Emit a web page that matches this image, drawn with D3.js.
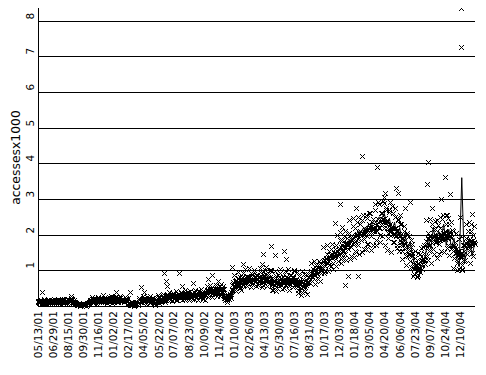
<!DOCTYPE html>
<html>
<head>
<meta charset="utf-8">
<script src="https://cdn.jsdelivr.net/npm/d3@7"></script>
<style>
  html, body { margin: 0; padding: 0; background: #fff; }
  svg { display: block; }
  text { font-family: "DejaVu Sans", sans-serif; fill: #000; }
</style>
</head>
<body>
<svg id="chart" width="486" height="375"></svg>
<script>
// ---------------- data ----------------
const startDate = "05/13/01";
const endDate = "01/25/05";

const tickLabels = ["05/13/01","06/29/01","08/15/01","09/30/01","11/16/01","01/02/02","02/17/02",
  "04/05/02","05/22/02","07/07/02","08/23/02","10/09/02","11/24/02","01/10/03","02/26/03",
  "04/13/03","05/30/03","07/16/03","08/31/03","10/17/03","12/03/03","01/18/04","03/05/04",
  "04/20/04","06/06/04","07/23/04","09/07/04","10/24/04","12/10/04"];

const yTicks = [1, 2, 3, 4, 5, 6, 7, 8];
const yMax = 8.36;

// daily accesses (x1000). Four interleaved sets, each one reading every 4 days,
// starting 0, 1, 2 and 3 days after the start date.
const accessStepDays = 4;

const accessesA = [ // day offset 0
  0.12,0.08,0.15,0.10,0.14,0.07,0.12,0.16,0.09,0.13,
  0.11,0.15,0.08,0.13,0.17,0.10,0.14,0.09,0.16,0.12,
  0.10,0.15,0.12,0.18,0.09,0.14,0.20,0.11,0.16,0.10,
  0.06,0.04,0.08,0.03,0.05,0.07,0.04,0.06,0.03,0.08,
  0.12,0.18,0.10,0.16,0.21,0.13,0.19,0.11,0.17,0.22,
  0.14,0.20,0.12,0.18,0.23,0.15,0.11,0.19,0.24,0.13,
  0.17,0.22,0.12,0.19,0.25,0.14,0.20,0.16,0.23,0.13,
  0.08,0.05,0.10,0.06,0.04,0.09,0.07,0.12,0.16,0.20,
  0.14,0.21,0.11,0.18,0.24,0.13,0.20,0.09,0.17,0.23,
  0.06,0.15,0.22,0.10,0.26,0.14,0.20,0.28,0.17,0.24,
  0.19,0.30,0.16,0.26,0.34,0.21,0.29,0.18,0.33,0.25,
  0.22,0.36,0.27,0.19,0.32,0.40,0.24,0.30,0.21,0.35,
  0.28,0.38,0.23,0.33,0.42,0.26,0.31,0.37,0.22,0.34,
  0.30,0.45,0.27,0.40,0.50,0.33,0.43,0.36,0.52,0.38,
  0.44,0.55,0.35,0.48,0.30,0.22,0.18,0.26,0.20,0.34,
  0.45,0.62,0.52,0.70,0.58,0.78,0.50,0.66,0.82,0.60,
  0.72,0.58,0.85,0.66,0.76,0.92,0.62,0.80,0.70,0.88,
  0.65,0.82,0.95,0.72,0.60,0.88,1.00,0.75,0.68,0.90,
  0.55,0.78,0.45,0.70,0.85,0.50,0.62,0.92,0.58,0.74,
  0.82,0.60,0.95,0.70,0.55,0.86,0.66,0.78,0.98,0.62,
  0.72,0.45,0.85,0.58,0.40,0.76,0.90,0.52,0.68,0.82,
  0.80,0.98,0.70,1.05,0.88,1.15,0.78,1.02,1.20,0.92,
  1.10,1.30,0.98,1.25,1.45,1.15,1.38,1.60,1.22,1.50,
  1.40,1.72,1.25,1.58,1.85,1.35,1.65,1.95,1.45,1.78,
  1.60,2.05,1.40,1.85,2.25,1.55,1.98,2.35,1.70,2.10,
  1.85,2.40,1.60,2.15,2.55,1.75,2.30,2.60,1.95,2.45,
  2.10,2.70,1.85,2.45,2.85,2.00,2.60,2.95,2.20,2.75,
  2.35,1.90,2.65,2.10,2.80,1.80,2.50,2.20,1.70,2.40,
  1.95,2.30,1.55,2.10,1.75,1.40,2.00,1.60,1.25,1.85,
  1.10,0.90,1.35,0.85,1.20,1.00,1.45,1.30,1.65,1.50,
  1.70,1.40,2.05,1.55,1.90,2.30,1.60,2.15,1.80,2.40,
  1.75,2.20,1.55,2.45,1.90,2.10,2.55,1.70,2.30,1.95,
  1.60,2.10,1.35,1.80,1.20,1.55,1.05,1.40,1.15,1.70,
  1.25,1.90,1.45,2.10,1.60,2.30,1.50,2.00,1.75
];

const accessesC = [ // day offset 1
  0.14,0.10,0.17,0.12,0.09,0.16,0.13,0.11,0.18,0.14,
  0.13,0.17,0.11,0.15,0.12,0.19,0.10,0.14,0.17,0.09,
  0.16,0.12,0.19,0.10,0.15,0.13,0.18,0.14,0.11,0.08,
  0.05,0.03,0.06,0.04,0.07,0.03,0.05,0.06,0.04,0.10,
  0.17,0.13,0.20,0.11,0.18,0.15,0.22,0.14,0.19,0.16,
  0.18,0.15,0.22,0.13,0.20,0.17,0.23,0.14,0.19,0.16,
  0.20,0.15,0.23,0.18,0.14,0.21,0.17,0.24,0.19,0.15,
  0.06,0.09,0.04,0.08,0.06,0.10,0.05,0.08,0.18,0.15,
  0.19,0.15,0.22,0.12,0.18,0.21,0.14,0.17,0.23,0.13,
  0.10,0.20,0.16,0.24,0.18,0.22,0.15,0.26,0.20,0.23,
  0.27,0.22,0.31,0.24,0.29,0.35,0.26,0.32,0.24,0.30,
  0.29,0.33,0.25,0.36,0.28,0.31,0.38,0.27,0.33,0.30,
  0.32,0.27,0.36,0.30,0.25,0.38,0.33,0.29,0.35,0.31,
  0.38,0.45,0.35,0.42,0.48,0.36,0.44,0.40,0.47,0.39,
  0.48,0.42,0.50,0.45,0.22,0.26,0.19,0.24,0.28,0.38,
  0.58,0.66,0.55,0.72,0.62,0.68,0.60,0.75,0.65,0.70,
  0.70,0.78,0.65,0.82,0.74,0.68,0.85,0.72,0.78,0.75,
  0.75,0.70,0.85,0.78,0.68,0.80,0.88,0.72,0.82,0.76,
  0.68,0.62,0.75,0.58,0.72,0.66,0.80,0.64,0.70,0.74,
  0.72,0.66,0.80,0.70,0.62,0.76,0.68,0.82,0.74,0.70,
  0.62,0.55,0.70,0.50,0.60,0.66,0.58,0.72,0.64,0.68,
  0.85,0.92,0.80,0.98,0.88,0.95,0.90,1.05,0.96,1.02,
  1.18,1.28,1.12,1.35,1.25,1.40,1.30,1.45,1.38,1.42,
  1.45,1.55,1.40,1.62,1.52,1.70,1.58,1.75,1.65,1.72,
  1.72,1.82,1.65,1.90,1.78,1.95,1.85,2.02,1.90,1.98,
  1.95,2.05,1.88,2.12,2.00,2.18,2.08,2.22,2.10,2.15,
  2.15,2.28,2.10,2.35,2.22,2.40,2.30,2.45,2.32,2.38,
  2.20,2.05,2.30,2.12,2.25,2.00,2.18,1.95,2.10,2.02,
  1.85,1.70,1.90,1.62,1.75,1.55,1.68,1.45,1.58,1.40,
  1.20,1.05,1.15,1.02,1.22,1.10,1.28,1.18,1.35,1.30,
  1.82,1.65,1.90,1.72,1.85,1.78,1.95,1.80,1.88,1.92,
  1.95,1.85,2.02,1.90,2.05,1.88,2.00,1.92,2.08,1.96,
  1.70,1.55,1.62,1.48,1.52,1.40,1.45,1.35,1.50,1.42,
  1.65,1.78,1.72,1.85,1.70,1.82,1.75,1.80
];

const accessesB = [ // day offset 2
  0.13,0.18,0.06,0.12,0.19,0.09,0.11,0.17,0.05,0.14,
  0.09,0.16,0.20,0.07,0.13,0.18,0.06,0.11,0.19,0.15,
  0.21,0.14,0.08,0.18,0.12,0.23,0.16,0.07,0.10,0.06,
  0.03,0.08,0.01,0.05,0.09,0.02,0.07,0.01,0.08,0.12,
  0.15,0.24,0.08,0.19,0.13,0.07,0.25,0.16,0.10,0.22,
  0.12,0.26,0.19,0.09,0.23,0.14,0.27,0.08,0.18,0.24,
  0.26,0.11,0.17,0.28,0.13,0.20,0.10,0.25,0.22,0.09,
  0.09,0.03,0.11,0.05,0.01,0.07,0.12,0.02,0.22,0.11,
  0.11,0.27,0.18,0.07,0.25,0.14,0.29,0.10,0.21,0.08,
  0.04,0.19,0.31,0.09,0.26,0.12,0.33,0.22,0.10,0.30,
  0.16,0.40,0.28,0.13,0.36,0.21,0.42,0.18,0.33,0.24,
  0.39,0.18,0.27,0.45,0.21,0.34,0.16,0.43,0.29,0.20,
  0.19,0.46,0.35,0.17,0.41,0.24,0.48,0.21,0.38,0.16,
  0.57,0.26,0.41,0.59,0.24,0.49,0.33,0.60,0.28,0.52,
  0.29,0.61,0.38,0.56,0.16,0.31,0.11,0.27,0.34,0.22,
  0.47,0.88,0.63,0.42,0.94,0.55,0.80,0.45,0.92,0.68,
  1.03,0.57,0.79,1.06,0.52,0.91,0.64,1.00,0.55,0.86,
  0.59,1.07,0.83,0.52,0.97,0.70,1.09,0.56,0.90,1.02,
  1.01,0.46,0.74,0.98,0.42,0.87,0.55,1.04,0.48,0.81,
  0.50,0.97,0.61,1.04,0.46,0.88,0.73,0.53,1.01,0.64,
  0.94,0.36,0.73,0.31,0.97,0.52,0.41,0.90,0.34,0.80,
  0.64,1.21,0.90,1.27,0.62,1.08,0.76,1.25,0.69,1.16,
  1.66,0.92,1.30,1.72,0.98,1.55,1.12,1.74,1.05,1.60,
  1.12,1.98,1.50,2.08,1.20,1.85,1.35,2.10,1.28,1.92,
  2.40,1.32,1.88,2.48,1.38,2.20,1.52,2.50,1.45,2.30,
  1.52,2.55,2.02,1.60,2.48,1.75,2.60,1.58,2.35,1.70,
  2.85,1.72,2.30,2.92,1.80,2.60,1.95,2.88,1.70,2.70,
  1.58,2.70,2.15,1.52,2.62,1.80,2.75,1.62,2.45,1.55,
  2.30,1.32,1.85,2.25,1.15,2.05,1.40,1.95,1.10,1.75,
  0.85,1.55,1.12,0.82,1.48,0.95,1.62,1.05,1.70,1.18,
  2.40,1.28,1.95,2.45,1.22,2.15,1.45,2.38,1.35,2.28,
  1.45,2.50,1.98,2.55,1.52,2.30,1.62,2.48,1.42,2.35,
  2.12,1.08,1.65,2.05,1.02,1.88,1.20,1.95,1.05,1.70,
  1.28,2.30,1.75,2.35,1.22,2.10,1.40,2.25
];

const accessesD = [ // day offset 3
  0.11,0.15,0.09,0.13,0.16,0.11,0.14,0.10,0.13,0.16,
  0.15,0.10,0.14,0.11,0.16,0.12,0.15,0.11,0.13,0.16,
  0.12,0.17,0.14,0.16,0.11,0.19,0.13,0.17,0.09,0.05,
  0.04,0.06,0.03,0.05,0.02,0.06,0.04,0.03,0.07,0.09,
  0.14,0.19,0.12,0.16,0.21,0.12,0.17,0.20,0.13,0.18,
  0.16,0.21,0.14,0.19,0.15,0.22,0.13,0.21,0.16,0.18,
  0.15,0.19,0.22,0.14,0.20,0.17,0.13,0.21,0.16,0.22,
  0.05,0.07,0.04,0.09,0.03,0.07,0.05,0.09,0.14,0.18,
  0.16,0.20,0.13,0.19,0.15,0.22,0.12,0.18,0.14,0.20,
  0.08,0.14,0.19,0.13,0.21,0.17,0.25,0.19,0.27,0.21,
  0.23,0.28,0.20,0.33,0.26,0.22,0.30,0.27,0.34,0.25,
  0.26,0.31,0.35,0.24,0.30,0.26,0.33,0.29,0.25,0.32,
  0.28,0.34,0.26,0.36,0.31,0.28,0.35,0.30,0.27,0.36,
  0.42,0.36,0.46,0.38,0.44,0.40,0.50,0.37,0.43,0.46,
  0.45,0.50,0.40,0.47,0.25,0.20,0.27,0.21,0.30,0.40,
  0.62,0.55,0.70,0.60,0.75,0.58,0.66,0.72,0.62,0.76,
  0.74,0.66,0.80,0.70,0.84,0.72,0.78,0.68,0.82,0.76,
  0.72,0.80,0.74,0.66,0.84,0.76,0.70,0.86,0.74,0.80,
  0.64,0.70,0.60,0.76,0.66,0.72,0.62,0.78,0.68,0.66,
  0.68,0.74,0.64,0.78,0.72,0.66,0.80,0.70,0.66,0.76,
  0.58,0.64,0.52,0.68,0.56,0.62,0.70,0.60,0.66,0.74,
  0.90,0.84,0.96,0.88,1.00,0.92,1.06,0.98,1.08,1.10,
  1.25,1.15,1.32,1.22,1.38,1.28,1.42,1.35,1.48,1.40,
  1.50,1.42,1.58,1.48,1.65,1.55,1.68,1.62,1.78,1.70,
  1.78,1.68,1.85,1.75,1.92,1.82,1.98,1.88,2.05,1.95,
  2.00,1.90,2.08,1.98,2.15,2.05,2.20,2.12,2.25,2.18,
  2.22,2.12,2.30,2.20,2.38,2.28,2.42,2.35,2.48,2.40,
  2.15,2.25,2.08,2.20,2.02,2.15,1.98,2.12,2.05,1.95,
  1.80,1.92,1.72,1.85,1.62,1.70,1.52,1.62,1.42,1.50,
  1.12,1.22,1.08,1.18,1.05,1.25,1.15,1.32,1.25,1.40,
  1.75,1.88,1.70,1.95,1.78,1.90,1.82,1.98,1.85,2.00,
  1.90,2.00,1.88,2.05,1.95,2.08,1.92,2.02,1.98,1.90,
  1.62,1.72,1.50,1.60,1.45,1.55,1.38,1.48,1.42,1.55,
  1.72,1.62,1.80,1.70,1.88,1.75,1.85,1.78
];

// isolated readings away from the main band
const outlierDates = ["05/25/01","08/23/01","11/30/01","01/09/02","02/22/02","03/28/02","04/06/02",
  "06/07/02","06/13/02","06/16/02","07/24/02","08/02/02","09/05/02","10/21/02","11/03/02","11/21/02",
  "01/04/03","02/07/03","04/06/03","04/10/03","05/04/03","05/17/03","06/14/03","06/20/03",
  "11/19/03","12/04/03","12/10/03","12/19/03","12/29/03","01/24/04","01/29/04","02/10/04","03/28/04",
  "04/18/04","04/21/04","05/07/04","05/25/04","06/01/04","06/07/04","06/22/04","07/08/04",
  "08/01/04","08/29/04","09/01/04","09/14/04","09/29/04","10/12/04","10/24/04","10/30/04","11/08/04",
  "12/09/04","12/12/04","12/13/04","12/16/04","01/16/05"];
const outlierValues = [0.38,0.27,0.32,0.38,0.38,0.52,0.38,
  0.93,0.70,0.55,0.93,0.55,0.65,0.77,0.88,0.70,
  1.10,1.19,1.19,1.47,1.69,1.42,1.53,1.33,
  2.34,2.85,2.23,0.60,0.83,2.75,0.83,4.20,3.90,
  3.07,3.18,2.92,3.30,3.17,2.56,2.75,2.92,
  0.88,3.43,4.05,2.75,2.42,3.00,3.63,2.56,3.15,
  2.50,7.27,8.36,1.00,2.57];

// line series, one reading every 8 days from the start date
const lineStepDays = 8;
const lineValues = [
  0.12,0.10,0.13,0.11,0.12,0.14,0.11,0.13,0.12,0.14,
  0.13,0.15,0.14,0.15,0.14,0.12,0.05,0.04,0.06,0.05,
  0.15,0.17,0.16,0.18,0.17,0.19,0.18,0.20,0.17,0.19,
  0.20,0.18,0.21,0.19,0.20,0.08,0.07,0.06,0.09,0.15,
  0.18,0.17,0.20,0.19,0.21,0.12,0.10,0.18,0.20,0.22,
  0.24,0.26,0.25,0.28,0.27,0.30,0.28,0.31,0.29,0.30,
  0.32,0.30,0.33,0.31,0.35,0.37,0.36,0.40,0.38,0.42,
  0.45,0.40,0.35,0.20,0.18,0.25,0.45,0.55,0.60,0.65,
  0.68,0.72,0.70,0.75,0.78,0.74,0.80,0.82,0.78,0.85,
  0.80,0.65,0.70,0.75,0.72,0.78,0.76,0.80,0.74,0.78,
  0.65,0.60,0.70,0.72,0.68,0.80,0.85,0.90,0.88,0.95,
  1.05,1.15,1.20,1.30,1.35,1.45,1.50,1.60,1.70,1.65,
  1.80,1.90,1.85,2.00,2.10,2.05,2.20,2.15,2.30,2.25,
  2.40,2.35,2.50,2.45,2.60,2.30,2.45,2.10,2.35,1.95,
  2.20,1.70,2.05,1.60,1.80,1.40,1.10,0.95,1.00,1.20,
  1.45,1.90,1.60,2.20,1.75,2.10,1.85,2.30,1.70,2.15,
  1.60,1.90,1.35,1.10,3.60,1.20,1.55,1.85,1.40,1.75
];

const yTitle = "accessesx1000";

// ---------------- drawing ----------------
(function () {
const parse = d3.timeParse("%m/%d/%y");
const t0 = parse(startDate), t1 = parse(endDate);

const pLeft = 38, pRight = 475, pTop = 8, pBottom = 306;

const x = d3.scaleTime().domain([t0, t1]).range([pLeft, pRight]);
const y = d3.scaleLinear().domain([0, yMax]).range([pBottom, pTop]);

const svg = d3.select("#chart");

svg.append("defs").append("clipPath").attr("id", "plotclip")
  .append("rect").attr("x", pLeft - 3).attr("y", pTop).attr("width", pRight - pLeft + 6).attr("height", pBottom - pTop + 4);

// gridlines
const grid = svg.append("g").attr("shape-rendering", "crispEdges");
grid.selectAll("line.g").data([0].concat(yTicks)).join("line")
  .attr("x1", pLeft).attr("x2", pRight)
  .attr("y1", d => Math.round(y(d)) + 0.5).attr("y2", d => Math.round(y(d)) + 0.5)
  .attr("stroke", "#000").attr("stroke-width", 1);

// left axis line
grid.append("line")
  .attr("x1", pLeft + 0.5).attr("x2", pLeft + 0.5)
  .attr("y1", pTop).attr("y2", Math.round(y(0)) + 1)
  .attr("stroke", "#000");

// y tick labels (rotated)
svg.append("g").selectAll("text").data(yTicks).join("text")
  .attr("transform", d => `translate(33.5,${Math.round(y(d)) - 1.5}) rotate(-90)`)
  .attr("text-anchor", "start")
  .style("font-size", "10.5px")
  .text(d => d);

// y title
svg.append("text")
  .attr("transform", `translate(20,157.5) rotate(-90)`)
  .attr("text-anchor", "middle")
  .style("font-size", "12.4px")
  .text(yTitle);

// x tick labels (rotated)
svg.append("g").selectAll("text").data(tickLabels).join("text")
  .attr("transform", d => `translate(${x(parse(d))},311) rotate(-90)`)
  .attr("text-anchor", "end")
  .attr("dy", "0.36em")
  .style("font-size", "10.5px")
  .text(d => d);

const plot = svg.append("g").attr("clip-path", "url(#plotclip)");

// line series (drawn under the markers)
const lineData = lineValues.map((v, i) => ({ date: d3.timeDay.offset(t0, i * lineStepDays), v }));
plot.append("path")
  .datum(lineData)
  .attr("fill", "none").attr("stroke", "#000").attr("stroke-width", 1)
  .attr("d", d3.line().x(d => x(d.date)).y(d => y(d.v)));

// markers
const sets = [[accessesA, 0], [accessesC, 1], [accessesB, 2], [accessesD, 3]];
let pts = [];
sets.forEach(([arr, off]) => {
  pts = pts.concat(arr.map((v, i) => ({ date: d3.timeDay.offset(t0, i * accessStepDays + off), v })));
});
pts = pts.concat(outlierDates.map((d, i) => ({ date: parse(d), v: outlierValues[i] })));

const s = 2.5;
plot.append("path")
  .attr("fill", "none").attr("stroke", "#000").attr("stroke-width", 1)
  .attr("shape-rendering", "crispEdges")
  .attr("d", pts.map(p => {
    const cx = Math.round(x(p.date)) + 0.5, cy = Math.round(y(p.v)) + 0.5;
    return `M${cx - s},${cy - s}L${cx + s},${cy + s}M${cx - s},${cy + s}L${cx + s},${cy - s}`;
  }).join(""));
})();
</script>
</body>
</html>
